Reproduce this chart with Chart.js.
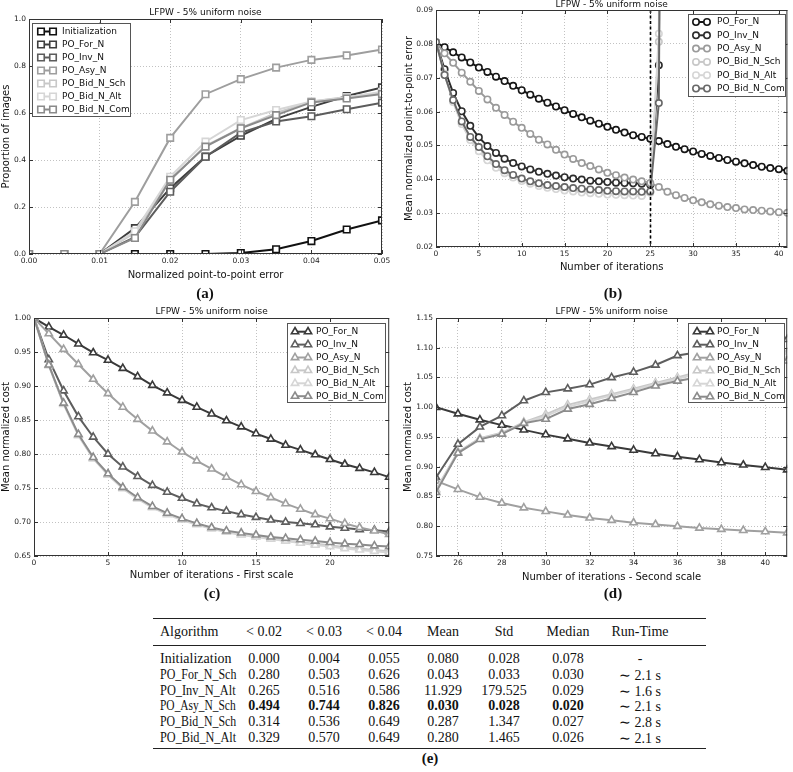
<!DOCTYPE html>
<html>
<head>
<meta charset="utf-8">
<script src="https://cdn.jsdelivr.net/npm/chart.js@4.4.0/dist/chart.umd.min.js"></script>
<style>
  body { margin: 0; background: #fff; width: 793px; height: 772px; position: relative; overflow: hidden; }
  canvas { position: absolute; }
  .tag { position: absolute; font: bold 15px "Liberation Serif", serif; color: #111; transform: translate(-50%, -50%); white-space: nowrap; }
  .cell { position: absolute; font: 14px "Liberation Serif", serif; color: #111; white-space: nowrap; transform: translate(-50%, -50%); }
  .cell.left { transform-origin: 0 50%; }
  .cell.b { font-weight: bold; }
  .rule { position: absolute; background: #222; }
</style>
</head>
<body>
<canvas id="chartA" width="395" height="288" style="left:0;top:0"></canvas>
<canvas id="chartB" width="395" height="285" style="left:398px;top:0"></canvas>
<canvas id="chartC" width="395" height="285" style="left:0;top:300px"></canvas>
<canvas id="chartD" width="395" height="285" style="left:398px;top:300px"></canvas>
<div class="tag" style="left:205px;top:293px">(a)</div>
<div class="tag" style="left:613px;top:293px">(b)</div>
<div class="tag" style="left:212px;top:593px">(c)</div>
<div class="tag" style="left:613px;top:593px">(d)</div>
<div class="tag" style="left:430px;top:758px">(e)</div>
<div id="table"></div>

<script>
const TITLE = 'LFPW - 5% uniform noise';
const NAMES6 = ['PO_For_N', 'PO_Inv_N', 'PO_Asy_N', 'PO_Bid_N_Sch', 'PO_Bid_N_Alt', 'PO_Bid_N_Com'];

// (a) cumulative error curves
const errX = [0, 0.005, 0.01, 0.015, 0.02, 0.025, 0.03, 0.035, 0.04, 0.045, 0.05];
const aInit = [0, 0, 0, 0, 0, 0, 0.004, 0.02, 0.055, 0.104, 0.143];
const aFor = [0, 0, 0, 0.11, 0.28, 0.415, 0.503, 0.575, 0.626, 0.672, 0.709];
const aInv = [0, 0, 0, 0.072, 0.265, 0.414, 0.516, 0.564, 0.586, 0.616, 0.644];
const aAsy = [0, 0, 0, 0.222, 0.494, 0.68, 0.744, 0.793, 0.826, 0.845, 0.87];
const aSch = [0, 0, 0, 0.09, 0.314, 0.46, 0.536, 0.60, 0.649, 0.668, 0.686];
const aAlt = [0, 0, 0, 0.097, 0.329, 0.478, 0.570, 0.613, 0.649, 0.666, 0.69];
const aCom = [0, 0, 0, 0.068, 0.316, 0.457, 0.535, 0.591, 0.645, 0.662, 0.681];
const ticksAX = [0, 0.01, 0.02, 0.03, 0.04, 0.05];
const ticksAY = [0, 0.2, 0.4, 0.6, 0.8, 1.0];

// (b) error vs iterations
const itersB = [0, 1, 2, 3, 4, 5, 6, 7, 8, 9, 10, 11, 12, 13, 14, 15, 16, 17, 18, 19, 20,
  21, 22, 23, 24, 25, 26, 27, 28, 29, 30, 31, 32, 33, 34, 35, 36, 37, 38, 39, 40, 41];
const bFor = [0.0805, 0.079, 0.0775, 0.076, 0.0745, 0.073, 0.0717, 0.0703, 0.069, 0.0676, 0.0663,
  0.065, 0.0638, 0.0626, 0.0615, 0.0604, 0.0593, 0.0583, 0.0573, 0.0564, 0.0555,
  0.0546, 0.0538, 0.053, 0.0525, 0.052, 0.0513, 0.0504, 0.0496, 0.0489, 0.0482,
  0.0475, 0.0469, 0.0463, 0.0457, 0.0452, 0.0447, 0.0442, 0.0437, 0.0433, 0.043, 0.0425];
const bInv = [0.0805, 0.0725, 0.0655, 0.0601, 0.0558, 0.0524, 0.0498, 0.0478, 0.0461, 0.0448, 0.0438,
  0.0429, 0.0422, 0.0416, 0.0411, 0.0406, 0.0402, 0.0399, 0.0396, 0.0394, 0.0392,
  0.039, 0.0389, 0.0388, 0.0387, 0.0384, 0.0737, 0.5];
const bAsy = [0.0805, 0.0772, 0.0744, 0.0715, 0.0688, 0.0661, 0.0636, 0.0611, 0.059, 0.057, 0.0552,
  0.0534, 0.0517, 0.0503, 0.0487, 0.0473, 0.046, 0.0448, 0.0439, 0.0429, 0.0419,
  0.0412, 0.0405, 0.0399, 0.0394, 0.0389, 0.0377, 0.0363, 0.0353, 0.0345, 0.0338,
  0.0332, 0.0326, 0.0322, 0.0318, 0.0315, 0.0311, 0.0309, 0.0307, 0.0305, 0.0303, 0.0301];
const bSch = [0.0805, 0.0712, 0.063, 0.0565, 0.0518, 0.0485, 0.0458, 0.0436, 0.042, 0.0407, 0.0397,
  0.0389, 0.0382, 0.0377, 0.0373, 0.0369, 0.0366, 0.0363, 0.0361, 0.0359, 0.0357,
  0.0356, 0.0355, 0.0354, 0.0353, 0.0362, 0.0806, 0.52];
const bAlt = [0.0805, 0.071, 0.0628, 0.0563, 0.0516, 0.0483, 0.0456, 0.0434, 0.0418, 0.0405, 0.0395,
  0.0387, 0.038, 0.0375, 0.0371, 0.0367, 0.0364, 0.0361, 0.0359, 0.0357, 0.0355,
  0.0354, 0.0353, 0.0352, 0.0351, 0.036, 0.083, 0.55];
const bCom = [0.0805, 0.0708, 0.0634, 0.0571, 0.0525, 0.0495, 0.0468, 0.0445, 0.0427, 0.0413, 0.0402,
  0.0394, 0.0388, 0.0383, 0.038, 0.0377, 0.0374, 0.0372, 0.037, 0.0368, 0.0366,
  0.0365, 0.0364, 0.0364, 0.0363, 0.0364, 0.0625, 0.48];
const scaleSwitch = 25;
const ticksBX = [0, 5, 10, 15, 20, 25, 30, 35, 40];
const ticksBY = [0.02, 0.03, 0.04, 0.05, 0.06, 0.07, 0.08, 0.09];

// (c) cost, first scale
const itersC = [0, 1, 2, 3, 4, 5, 6, 7, 8, 9, 10, 11, 12, 13, 14, 15, 16, 17, 18, 19, 20, 21, 22, 23, 24];
const cFor = [1.0, 0.987, 0.975, 0.962, 0.949, 0.938, 0.926, 0.914, 0.901, 0.89, 0.879, 0.869, 0.859,
  0.849, 0.84, 0.83, 0.822, 0.813, 0.806, 0.799, 0.792, 0.785, 0.779, 0.773, 0.766];
const cInv = [1.0, 0.939, 0.893, 0.855, 0.825, 0.8, 0.781, 0.767, 0.754, 0.744, 0.735, 0.727, 0.721,
  0.716, 0.711, 0.707, 0.703, 0.7, 0.698, 0.696, 0.693, 0.691, 0.689, 0.688, 0.686];
const cAsy = [1.0, 0.977, 0.954, 0.932, 0.91, 0.889, 0.869, 0.851, 0.834, 0.818, 0.803, 0.79, 0.778,
  0.766, 0.755, 0.745, 0.736, 0.727, 0.719, 0.711, 0.705, 0.698, 0.692, 0.687, 0.682];
const cSch = [1.0, 0.931, 0.874, 0.828, 0.794, 0.77, 0.75, 0.735, 0.722, 0.712, 0.704, 0.697, 0.691,
  0.686, 0.682, 0.679, 0.676, 0.673, 0.67, 0.668, 0.666, 0.663, 0.661, 0.659, 0.657];
const cAlt = [1.0, 0.93, 0.873, 0.827, 0.793, 0.769, 0.749, 0.734, 0.721, 0.711, 0.703, 0.696, 0.69,
  0.685, 0.681, 0.678, 0.675, 0.672, 0.669, 0.666, 0.664, 0.661, 0.659, 0.657, 0.655];
const cCom = [1.0, 0.931, 0.875, 0.829, 0.795, 0.771, 0.751, 0.736, 0.723, 0.713, 0.705, 0.698, 0.692,
  0.687, 0.684, 0.681, 0.678, 0.676, 0.674, 0.672, 0.67, 0.668, 0.667, 0.665, 0.664];
const ticksCX = [0, 5, 10, 15, 20];
const ticksCY = [0.65, 0.7, 0.75, 0.8, 0.85, 0.9, 0.95, 1.0];

// (d) cost, second scale
const itersD = [25, 26, 27, 28, 29, 30, 31, 32, 33, 34, 35, 36, 37, 38, 39, 40, 41];
const dFor = [1.0, 0.989, 0.979, 0.97, 0.962, 0.954, 0.947, 0.94, 0.934, 0.928, 0.922, 0.917, 0.912, 0.907, 0.903, 0.899, 0.895];
const dInv = [0.882, 0.938, 0.967, 0.986, 1.011, 1.025, 1.031, 1.038, 1.05, 1.059, 1.071, 1.087, 1.093, 1.099, 1.104, 1.109, 1.114];
const dAsy = [0.876, 0.862, 0.849, 0.839, 0.831, 0.825, 0.819, 0.814, 0.81, 0.806, 0.803, 0.8, 0.797, 0.795, 0.793, 0.791, 0.789];
const dSch = [0.862, 0.925, 0.948, 0.957, 0.975, 0.988, 1.004, 1.013, 1.022, 1.031, 1.041, 1.05, 1.06, 1.068, 1.075, 1.083, 1.092];
const dAlt = [0.86, 0.924, 0.947, 0.956, 0.974, 0.985, 1.001, 1.01, 1.02, 1.029, 1.039, 1.048, 1.057, 1.065, 1.072, 1.08, 1.088];
const dCom = [0.857, 0.923, 0.946, 0.955, 0.973, 0.98, 0.997, 1.005, 1.015, 1.025, 1.036, 1.044, 1.051, 1.058, 1.064, 1.071, 1.078];
const ticksDX = [26, 28, 30, 32, 34, 36, 38, 40];
const ticksDY = [0.75, 0.8, 0.85, 0.9, 0.95, 1.0, 1.05, 1.1, 1.15];

// (e) table
const tblHead = ['Algorithm', '< 0.02', '< 0.03', '< 0.04', 'Mean', 'Std', 'Median', 'Run-Time'];
const tblRows = [
  ['Initialization', '0.000', '0.004', '0.055', '0.080', '0.028', '0.078', '-'],
  ['PO_For_N_Sch', '0.280', '0.503', '0.626', '0.043', '0.033', '0.030', '\u223C 2.1 s'],
  ['PO_Inv_N_Alt', '0.265', '0.516', '0.586', '11.929', '179.525', '0.029', '\u223C 1.6 s'],
  ['PO_Asy_N_Sch', '0.494', '0.744', '0.826', '0.030', '0.028', '0.020', '\u223C 2.1 s'],
  ['PO_Bid_N_Sch', '0.314', '0.536', '0.649', '0.287', '1.347', '0.027', '\u223C 2.8 s'],
  ['PO_Bid_N_Alt', '0.329', '0.570', '0.649', '0.280', '1.465', '0.026', '\u223C 2.1 s']
];
const bestRow = 3;

const greysA = ['#111111', '#3e3e3e', '#5c5c5c', '#9e9e9e', '#c8c8c8', '#d6d6d6', '#8a8a8a'];
const greysB = ['#161616', '#2c2c2c', '#9a9a9a', '#c8c8c8', '#d6d6d6', '#686868'];
const greysC = ['#3a3a3a', '#5e5e5e', '#a0a0a0', '#c8c8c8', '#d6d6d6', '#8c8c8c'];

Chart.defaults.font.family = '"DejaVu Sans", sans-serif';
Chart.defaults.color = '#222';

function series(label, xs, ys, color, style, r, n, i) {
  return {
    label,
    data: ys.map((v, k) => ({ x: xs[k], y: v })),
    borderColor: color,
    backgroundColor: '#fff',
    borderWidth: 2,
    pointStyle: style,
    pointRadius: r,
    pointBorderWidth: 1.6,
    pointBorderColor: color,
    pointBackgroundColor: '#fff',
    tension: 0,
    order: n - i
  };
}

function marker(ctx, style, r, x, y) {
  ctx.beginPath();
  if (style === 'circle') {
    ctx.arc(x, y, r, 0, Math.PI * 2);
  } else if (style === 'rect') {
    const s = r * Math.SQRT1_2;
    ctx.rect(x - s, y - s, 2 * s, 2 * s);
  } else {
    ctx.moveTo(x, y - r);
    ctx.lineTo(x + r * Math.sin(2 * Math.PI / 3), y - r * Math.cos(2 * Math.PI / 3));
    ctx.lineTo(x + r * Math.sin(4 * Math.PI / 3), y - r * Math.cos(4 * Math.PI / 3));
    ctx.closePath();
  }
  ctx.fill();
  ctx.stroke();
}

// frame, inner ticks, title, legend box and the dashed scale line
const deco = {
  id: 'deco',
  afterDatasetsDraw(chart, args, o) {
    const { ctx, chartArea: a } = chart;
    const xs = chart.scales.x, ys = chart.scales.y;
    ctx.save();
    if (o.vline !== undefined) {
      const px = Math.round(xs.getPixelForValue(o.vline)) + 0.5;
      ctx.strokeStyle = '#000';
      ctx.lineWidth = 1.6;
      ctx.setLineDash([3, 2.5]);
      ctx.beginPath();
      ctx.moveTo(px, a.top);
      ctx.lineTo(px, a.bottom);
      ctx.stroke();
      ctx.setLineDash([]);
    }
    ctx.strokeStyle = '#333';
    ctx.lineWidth = 1;
    ctx.beginPath();
    xs.ticks.forEach(t => {
      const px = Math.round(xs.getPixelForValue(t.value)) + 0.5;
      ctx.moveTo(px, a.bottom); ctx.lineTo(px, a.bottom - 4);
      ctx.moveTo(px, a.top); ctx.lineTo(px, a.top + 4);
    });
    ys.ticks.forEach(t => {
      const py = Math.round(ys.getPixelForValue(t.value)) + 0.5;
      ctx.moveTo(a.left, py); ctx.lineTo(a.left + 4, py);
      ctx.moveTo(a.right, py); ctx.lineTo(a.right - 4, py);
    });
    ctx.stroke();
    ctx.strokeRect(a.left + 0.5, a.top + 0.5, a.width - 1, a.height - 1);

    ctx.fillStyle = '#111';
    ctx.font = '9px "DejaVu Sans"';
    ctx.textAlign = 'center';
    ctx.textBaseline = 'middle';
    ctx.fillText(TITLE, (a.left + a.right) / 2, a.top - o.titleGap);

    const lg = o.legend;
    const bx = a.left + lg.x, by = a.top + lg.y;
    ctx.fillStyle = '#fff';
    ctx.fillRect(bx, by, lg.w, lg.h);
    ctx.strokeStyle = '#555';
    ctx.strokeRect(bx + 0.5, by + 0.5, lg.w - 1, lg.h - 1);
    ctx.textAlign = 'left';
    chart.data.datasets.forEach((ds, i) => {
      const cy = by + lg.first + i * lg.step;
      ctx.strokeStyle = ds.borderColor;
      ctx.lineWidth = 2;
      ctx.beginPath();
      ctx.moveTo(bx + lg.m0, cy);
      ctx.lineTo(bx + lg.m1, cy);
      ctx.stroke();
      ctx.fillStyle = '#fff';
      ctx.lineWidth = 1.6;
      marker(ctx, ds.pointStyle, ds.pointRadius, bx + lg.m0, cy);
      marker(ctx, ds.pointStyle, ds.pointRadius, bx + lg.m1, cy);
      ctx.fillStyle = '#111';
      ctx.fillText(ds.label, bx + lg.tx, cy);
    });
    ctx.restore();
  }
};

function axis(ticks, fmt, size, label, titlePad, horizontal, min, max) {
  return {
    type: 'linear',
    min, max,
    afterBuildTicks: s => { s.ticks = ticks.map(v => ({ value: v })); },
    afterFit: s => { if (horizontal) s.height = size; else s.width = size; },
    ticks: { font: { size: 7.5 }, padding: 3, callback: v => fmt(v), maxRotation: 0, autoSkip: false },
    grid: { color: 'rgba(0,0,0,0.3)', lineWidth: 0.8, drawTicks: false },
    border: { display: false, dash: [1, 2] },
    title: { display: true, text: label, font: { size: 10 }, color: '#111', padding: titlePad }
  };
}

function build(id, sets, pad, xAxis, yAxis, decoOpts) {
  return new Chart(document.getElementById(id), {
    type: 'line',
    data: { datasets: sets },
    options: {
      responsive: false,
      animation: false,
      devicePixelRatio: 1,
      layout: { padding: pad },
      plugins: { legend: { display: false }, tooltip: { enabled: false }, deco: decoOpts },
      scales: { x: xAxis, y: yAxis }
    },
    plugins: [deco]
  });
}

const f2 = v => v.toFixed(2);
const f1 = v => v.toFixed(1);
const f0 = v => String(v);

// (a)
const setsA = [aInit, aFor, aInv, aAsy, aSch, aAlt, aCom].map((ys, i, all) =>
  series(['Initialization'].concat(NAMES6)[i], errX, ys, greysA[i], 'rect', 4.6, all.length, i));
build('chartA', setsA, { left: 0, top: 19, right: 13, bottom: 0 },
  axis(ticksAX, f2, 34, 'Normalized point-to-point error', { top: 0, bottom: 7 }, true, 0, 0.05),
  axis(ticksAY, f1, 29, 'Proportion of images', { top: 0, bottom: 0 }, false, 0, 1),
  { titleGap: 6, legend: { x: 3, y: 4, w: 99, h: 94, first: 8.5, step: 13, m0: 9, m1: 21, tx: 30 } });

// (b)
const setsB = [bFor, bInv, bAsy, bSch, bAlt, bCom].map((ys, i, all) =>
  series(NAMES6[i], itersB, ys, greysB[i], 'circle', 3.2, all.length, i));
build('chartB', setsB, { left: 0, top: 10, right: 2, bottom: 0 },
  axis(ticksBX, f0, 38, 'Number of iterations', { top: 0, bottom: 12 }, true, 0, 41),
  axis(ticksBY, f2, 38, 'Mean normalized point-to-point error', { top: 5, bottom: 0 }, false, 0.02, 0.09),
  { titleGap: 5, vline: scaleSwitch, legend: { x: 252, y: 4, w: 98, h: 83, first: 8, step: 13.3, m0: 8, m1: 19, tx: 29 } });

// (c)
const setsC = [cFor, cInv, cAsy, cSch, cAlt, cCom].map((ys, i, all) =>
  series(NAMES6[i], itersC, ys, greysC[i], 'triangle', 4.2, all.length, i));
build('chartC', setsC, { left: 0, top: 18, right: 5, bottom: 0 },
  axis(ticksCX, f0, 29, 'Number of iterations - First scale', { top: 0, bottom: 4 }, true, 0, 24),
  axis(ticksCY, f2, 34, 'Mean normalized cost', { top: 0, bottom: 0 }, false, 0.65, 1.0),
  { titleGap: 6, legend: { x: 253, y: 5, w: 99, h: 80, first: 8.7, step: 12.9, m0: 8, m1: 21, tx: 29 } });

// (d)
const setsD = [dFor, dInv, dAsy, dSch, dAlt, dCom].map((ys, i, all) =>
  series(NAMES6[i], itersD, ys, greysC[i], 'triangle', 4.2, all.length, i));
build('chartD', setsD, { left: 0, top: 18, right: 2, bottom: 0 },
  axis(ticksDX, f0, 29, 'Number of iterations - Second scale', { top: 0, bottom: 2 }, true, 25, 41),
  axis(ticksDY, f2, 38, 'Mean normalized cost', { top: 4, bottom: 0 }, false, 0.75, 1.15),
  { titleGap: 6, legend: { x: 252, y: 5, w: 97, h: 80, first: 8.7, step: 13, m0: 9, m1: 22, tx: 29 } });

// table (e)
const colX = [160, 264, 324, 384, 443, 504, 568, 640];
const nameMaxW = 76;
const headY = 632, rowY0 = 659, rowStep = 15.8;
const tbl = document.getElementById('table');
function cell(txt, x, y, cls) {
  const d = document.createElement('div');
  d.className = 'cell ' + cls;
  d.textContent = txt;
  d.style.left = x + 'px';
  d.style.top = y + 'px';
  tbl.appendChild(d);
  if (cls.includes('left')) {
    const k = Math.min(1, nameMaxW / d.offsetWidth);
    d.style.transform = 'translate(0, -50%) scaleX(' + k + ')';
  }
}
function rule(y, h) {
  const d = document.createElement('div');
  d.className = 'rule';
  d.style.left = '153px';
  d.style.width = '553px';
  d.style.top = y + 'px';
  d.style.height = h + 'px';
  tbl.appendChild(d);
}
tblHead.forEach((t, c) => cell(t, colX[c], headY, c === 0 ? 'left' : ''));
tblRows.forEach((row, r) => row.forEach((t, c) => {
  const bold = r === bestRow && c > 0 && c < row.length - 1;
  cell(t, colX[c], rowY0 + r * rowStep, (c === 0 ? 'left' : '') + (bold ? ' b' : ''));
}));
rule(618, 1.4);
rule(645, 0.7);
rule(748, 1.4);
</script>
</body>
</html>
